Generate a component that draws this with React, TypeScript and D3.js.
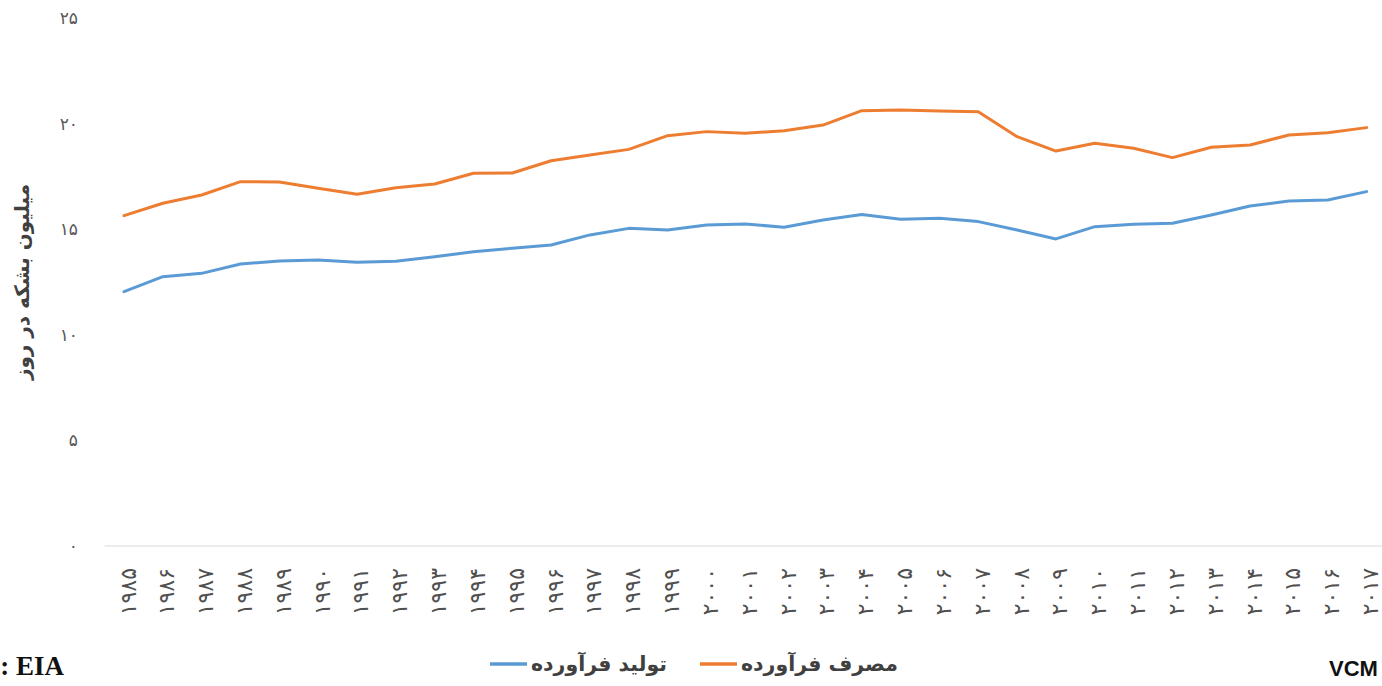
import React, { useEffect, useRef } from 'react';
import * as d3 from 'd3';

const years = [
  1985, 1986, 1987, 1988, 1989, 1990, 1991, 1992, 1993, 1994, 1995,
  1996, 1997, 1998, 1999, 2000, 2001, 2002, 2003, 2004, 2005, 2006,
  2007, 2008, 2009, 2010, 2011, 2012, 2013, 2014, 2015, 2016, 2017,
];

// تولید فرآورده (million barrels per day)
const production = [
  12.04, 12.75, 12.91, 13.35, 13.49, 13.54, 13.43, 13.48, 13.7, 13.93, 14.1,
  14.25, 14.73, 15.04, 14.96, 15.2, 15.25, 15.09, 15.44, 15.7, 15.47, 15.52,
  15.36, 14.96, 14.54, 15.12, 15.23, 15.28, 15.67, 16.1, 16.33, 16.38, 16.78,
];

// مصرف فرآورده
const consumption = [
  15.64, 16.23, 16.62, 17.25, 17.23, 16.94, 16.65, 16.96, 17.14, 17.65, 17.66,
  18.24, 18.51, 18.78, 19.43, 19.62, 19.54, 19.66, 19.93, 20.61, 20.64, 20.6,
  20.56, 19.38, 18.7, 19.07, 18.83, 18.39, 18.88, 18.99, 19.46, 19.57, 19.81,
];

const yTicks = [0, 5, 10, 15, 20, 25];

const seriesNames = ['تولید فرآورده', 'مصرف فرآورده'];
const seriesColors = ['#5B9BD5', '#ED7D31'];
const yTitle = 'میلیون بشکه در روز';

const faDigits = (v: number | string) =>
  String(v).replace(/\d/g, (d) => '۰۱۲۳۴۵۶۷۸۹'[+d]);

const W = 1382;
const H = 686;

export default function App() {
  const svgRef = useRef<SVGSVGElement | null>(null);

  useEffect(() => {
    document.body.style.margin = '0';
    if (!svgRef.current) return;
    const svg = d3.select(svgRef.current);
    svg.selectAll('*').remove();

    const font = "'DejaVu Sans', sans-serif";

    const x = d3.scalePoint<number>()
      .domain(years)
      .range([104.6, 1386])
      .padding(0.5);

    const y = d3.scaleLinear()
      .domain([0, 25])
      .range([546, 18]);

    // y tick labels
    svg.append('g')
      .selectAll('text')
      .data(yTicks)
      .join('text')
        .attr('x', 78)
        .attr('y', d => y(d))
        .attr('dy', '0.35em')
        .attr('text-anchor', 'end')
        .attr('font-family', font)
        .attr('font-size', 17)
        .attr('fill', '#595959')
        .text(d => faDigits(d));

    // baseline
    svg.append('line')
      .attr('x1', 104.6)
      .attr('x2', W)
      .attr('y1', y(0))
      .attr('y2', y(0))
      .attr('stroke', '#d9d9d9')
      .attr('stroke-width', 1.2);

    // x labels
    svg.append('g')
      .selectAll('text')
      .data(years)
      .join('text')
        .attr('transform', d => `translate(${(x(d) ?? 0) + 4},568) rotate(-90)`)
        .attr('text-anchor', 'end')
        .attr('dominant-baseline', 'central')
        .attr('font-family', font)
        .attr('font-size', 22)
        .attr('fill', '#505050')
        .text(d => faDigits(d));

    const line = d3.line<number>()
      .x((_, i) => x(years[i]) ?? 0)
      .y(d => y(d));

    [production, consumption].forEach((s, i) => {
      svg.append('path')
        .datum(s)
        .attr('fill', 'none')
        .attr('stroke', seriesColors[i])
        .attr('stroke-width', 3)
        .attr('stroke-linejoin', 'round')
        .attr('stroke-linecap', 'round')
        .attr('d', line);
    });

    // y title
    svg.append('text')
      .attr('transform', 'translate(22,282) rotate(-90)')
      .attr('text-anchor', 'middle')
      .attr('dominant-baseline', 'central')
      .attr('font-family', font)
      .attr('font-weight', 'bold')
      .attr('font-size', 20)
      .attr('fill', '#404040')
      .text(yTitle);

    // legend
    const legendX = [490, 700];
    const legend = svg.append('g');
    seriesNames.forEach((name, i) => {
      legend.append('line')
        .attr('x1', legendX[i])
        .attr('x2', legendX[i] + 37)
        .attr('y1', 664)
        .attr('y2', 664)
        .attr('stroke', seriesColors[i])
        .attr('stroke-width', 3.5);
      legend.append('text')
        .attr('x', legendX[i] + 41)
        .attr('y', 664)
        .attr('dy', '0.35em')
        .attr('font-family', font)
        .attr('font-weight', 'bold')
        .attr('font-size', 20.5)
        .attr('fill', '#404040')
        .text(name);
    });

    svg.append('text')
      .attr('x', 64)
      .attr('y', 675)
      .attr('text-anchor', 'end')
      .attr('font-family', "'Liberation Serif', serif")
      .attr('font-weight', 'bold')
      .attr('font-size', 27)
      .attr('fill', '#111')
      .text(': EIA');

    svg.append('text')
      .attr('x', 1329)
      .attr('y', 676)
      .attr('font-family', "'Liberation Sans', sans-serif")
      .attr('font-weight', 'bold')
      .attr('font-size', 22)
      .attr('fill', '#111')
      .text('VCM');
  }, []);

  return <svg ref={svgRef} width={W} height={H} style={{ display: 'block' }}></svg>;
}
